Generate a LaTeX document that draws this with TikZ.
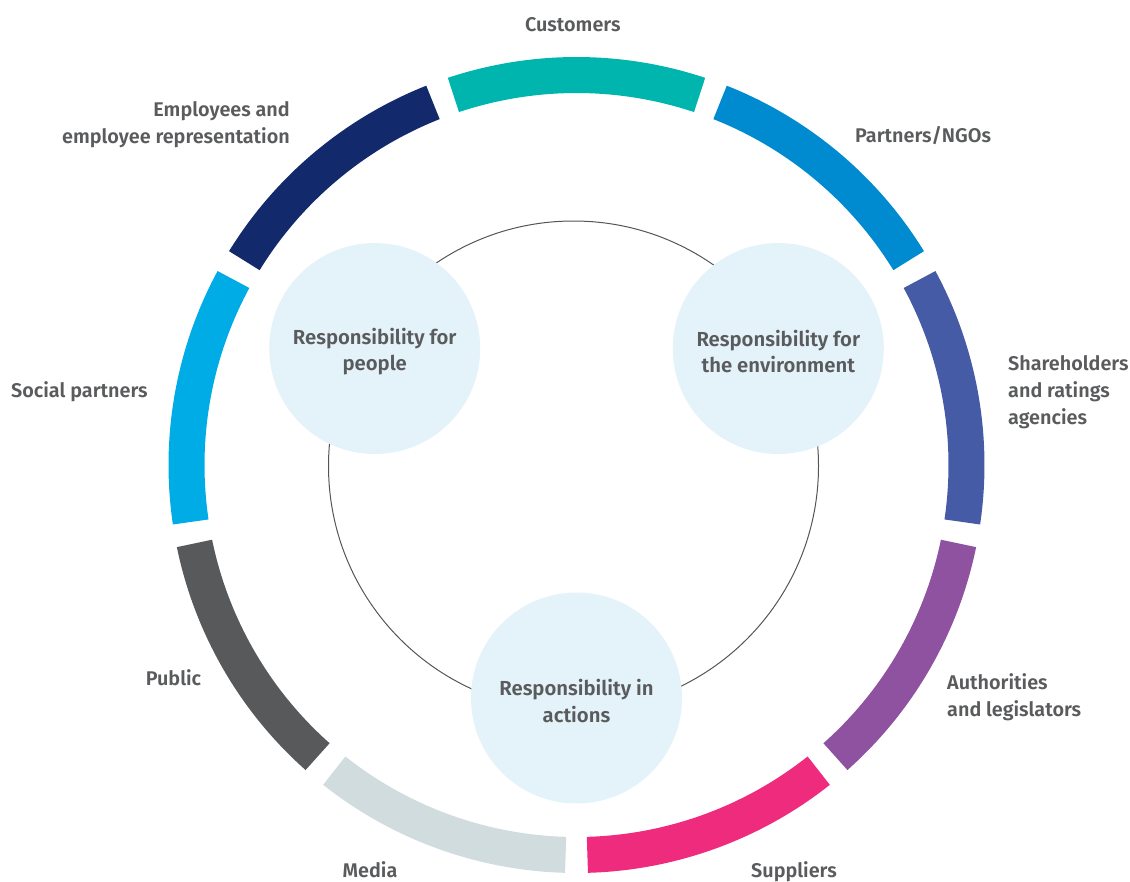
\documentclass[tikz,border=0pt]{standalone}
\usepackage{fontspec}
\setmainfont{Fira Sans}[BoldFont={Fira Sans SemiBold}]
\usepackage{xcolor}
\usepackage{tikz}
\usetikzlibrary{positioning,calc}
\definecolor{sgteal}{RGB}{0,181,173}
\definecolor{sgblue}{RGB}{0,139,208}
\definecolor{sgindigo}{RGB}{70,91,166}
\definecolor{sgpurple}{RGB}{142,82,160}
\definecolor{sgpink}{RGB}{238,43,125}
\definecolor{sgmist}{RGB}{209,220,223}
\definecolor{sgslate}{RGB}{88,89,91}
\definecolor{sgsky}{RGB}{0,172,230}
\definecolor{sgnavy}{RGB}{18,41,107}
\definecolor{sglight}{RGB}{228,242,250}
\definecolor{sgtext}{RGB}{90,91,93}
\definecolor{sgline}{RGB}{85,85,85}

\begin{document}
\begin{tikzpicture}[
    x=1pt, y=1pt,
    band/.style={line width=36pt},
    thinring/.style={draw=sgline, line width=1pt},
    hub/.style={circle, fill=sglight, minimum size=211pt, inner sep=0pt},
    hubtext/.style={align=center, yshift=-3pt, inner sep=0pt, font=\fontsize{20.3}{26.5}\selectfont\bfseries, text=sgtext},
    lbl/.style={font=\fontsize{19.8}{27}\selectfont\bfseries, text=sgtext, inner sep=0pt}
]
    \useasboundingbox (0,0) rectangle (1130,-881);
    \coordinate (c) at (576.5,-465);

    % Outer ring
    \foreach \ang/\col in {90/sgteal, 130/sgnavy, 170/sgsky, 210/sgslate, 250/sgmist,
                           290/sgpink, 330/sgpurple, 10/sgindigo, 50/sgblue}
        \draw[band, \col] ([shift={(\ang-18.4:390pt)}]c) arc[start angle=\ang-18.4, end angle=\ang+18.4, radius=390pt];

    % Inner circle
    \draw[thinring] (573.5,-466) circle[radius=245pt];

    % Responsibility hubs
    \node[hub, label={[hubtext]center:Responsibility for\\people}] (people) at ($(c)+(150:233pt)$) {};
    \node[hub, label={[hubtext]center:Responsibility for\\the environment}] (environment) at ($(c)+(30:233pt)$) {};
    \node[hub, label={[hubtext]center:Responsibility in\\actions}] (actions) at ($(c)+(270:233pt)$) {};

    % Stakeholder labels
    \node[lbl, anchor=base] (customers) at (572.8,-31) {Customers};
    \node[lbl, anchor=base west] (partners) at (855,-142) {Partners/NGOs};
    \node[lbl, align=left, anchor=base west] (shareholders) at (1008,-424) {Shareholders\\and ratings\\agencies};
    \node[lbl, align=left, anchor=base west] (authorities) at (947,-716) {Authorities\\and legislators};
    \node[lbl, anchor=base] (suppliers) at (794,-877) {Suppliers};
    \node[lbl, anchor=base] (media) at (370,-877) {Media};
    \node[lbl, anchor=base] (public) at (173.5,-685) {Public};
    \node[lbl, anchor=base west] (social) at (11,-397) {Social partners};
    \node[lbl, align=right, anchor=base east] (employees) at (290,-143) {Employees and\\employee representation};
\end{tikzpicture}
\end{document}
